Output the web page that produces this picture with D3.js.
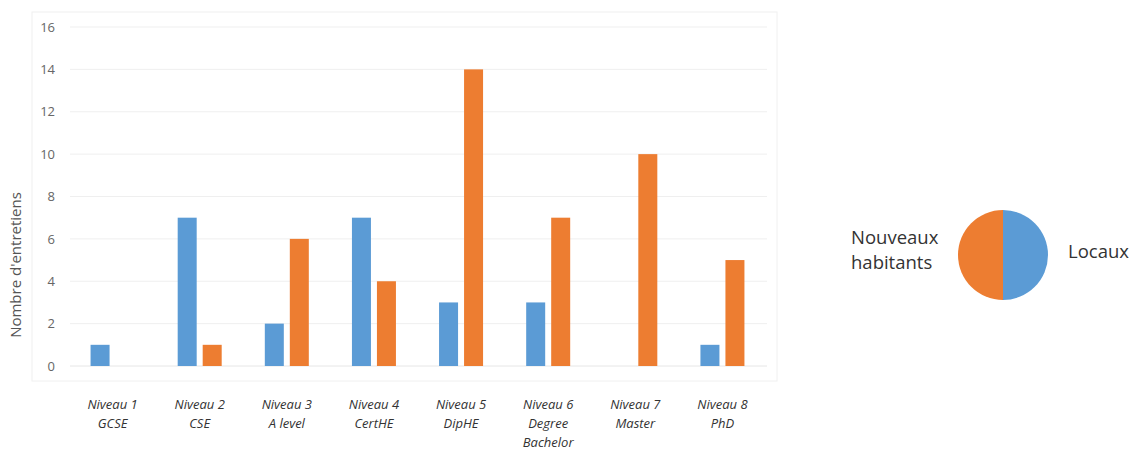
<!DOCTYPE html>
<html><head><meta charset="utf-8">
<script src="https://cdn.jsdelivr.net/npm/d3@7"></script>
<style>body{margin:0;background:#fff;}svg{display:block;}</style>
</head><body>
<svg id="c" width="1137" height="450"></svg>
<script>
const categories = [["Niveau 1","GCSE"],["Niveau 2","CSE"],["Niveau 3","A level"],["Niveau 4","CertHE"],["Niveau 5","DipHE"],["Niveau 6","Degree","Bachelor"],["Niveau 7","Master"],["Niveau 8","PhD"]];
const locaux = [1,7,2,7,3,3,0,1];
const nouveaux = [0,1,6,4,14,7,10,5];
const yTicks = [0,2,4,6,8,10,12,14,16];
const pieLabels = ["Locaux","Nouveaux habitants"];
const pieValues = [1,1];
const colors = ["#5B9BD5","#ED7D31"];

const svg = d3.select("#c");
// faint plot border
svg.append("rect").attr("x",32).attr("y",12).attr("width",745).attr("height",369)
  .attr("fill","none").attr("stroke","#f0f0f0");

const x = d3.scaleBand().domain(d3.range(categories.length)).range([70,767]);
const y = d3.scaleLinear().domain([0,16]).range([366,27]);

// gridlines
svg.append("g").selectAll("line").data(yTicks).join("line")
  .attr("x1",70).attr("x2",767).attr("y1",d=>y(d)).attr("y2",d=>y(d))
  .attr("stroke",d=>d===0?"#e6e6e6":"#efefef").attr("stroke-width",1);

// y axis
const ya = svg.append("g").attr("transform","translate(55,0)")
  .call(d3.axisLeft(y).tickValues(yTicks).tickSize(0).tickPadding(0));
ya.select(".domain").remove();
ya.selectAll("text").attr("font-family","Open Sans, sans-serif").attr("font-size",13).attr("fill","#666");

svg.append("text").attr("transform","translate(21,265) rotate(-90)")
  .attr("text-anchor","middle").attr("font-family","Open Sans, sans-serif")
  .attr("font-size",15).attr("fill","#555").text("Nombre d'entretiens");

const bw = 19, gap = 6;
const cx = i => x(i) + x.bandwidth()/2 - 1;
svg.append("g").selectAll("rect").data(locaux).join("rect")
  .attr("x",(d,i)=>cx(i)-gap/2-bw).attr("width",bw)
  .attr("y",d=>y(d)).attr("height",d=>y(0)-y(d)).attr("fill",colors[0]);
svg.append("g").selectAll("rect").data(nouveaux).join("rect")
  .attr("x",(d,i)=>cx(i)+gap/2).attr("width",bw)
  .attr("y",d=>y(d)).attr("height",d=>y(0)-y(d)).attr("fill",colors[1]);

// x labels
const xl = svg.append("g").selectAll("text").data(categories).join("text")
  .attr("text-anchor","middle").attr("font-family","Open Sans, sans-serif")
  .attr("font-style","italic").attr("font-size",13).attr("fill","#333");
xl.each(function(lines,i){
  const t = d3.select(this);
  lines.forEach((l,k)=>t.append("tspan").attr("x",cx(i)).attr("y",409+k*19).text(l));
});

// pie
const pie = d3.pie().sort(null).startAngle(0).endAngle(2*Math.PI)(pieValues);
const arc = d3.arc().innerRadius(0).outerRadius(45);
svg.append("g").attr("transform","translate(1003,255)").selectAll("path").data(pie).join("path")
  .attr("d",arc).attr("fill",(d,i)=>colors[i]);
svg.append("text").attr("x",1068).attr("y",258).attr("font-family","Open Sans, sans-serif")
  .attr("font-size",18.5).attr("fill","#333").text(pieLabels[0]);
const nl = svg.append("text").attr("font-family","Open Sans, sans-serif")
  .attr("font-size",18.5).attr("fill","#333");
nl.append("tspan").attr("x",851).attr("y",244).text("Nouveaux");
nl.append("tspan").attr("x",851).attr("y",269).text("habitants");
</script>
</body></html>
